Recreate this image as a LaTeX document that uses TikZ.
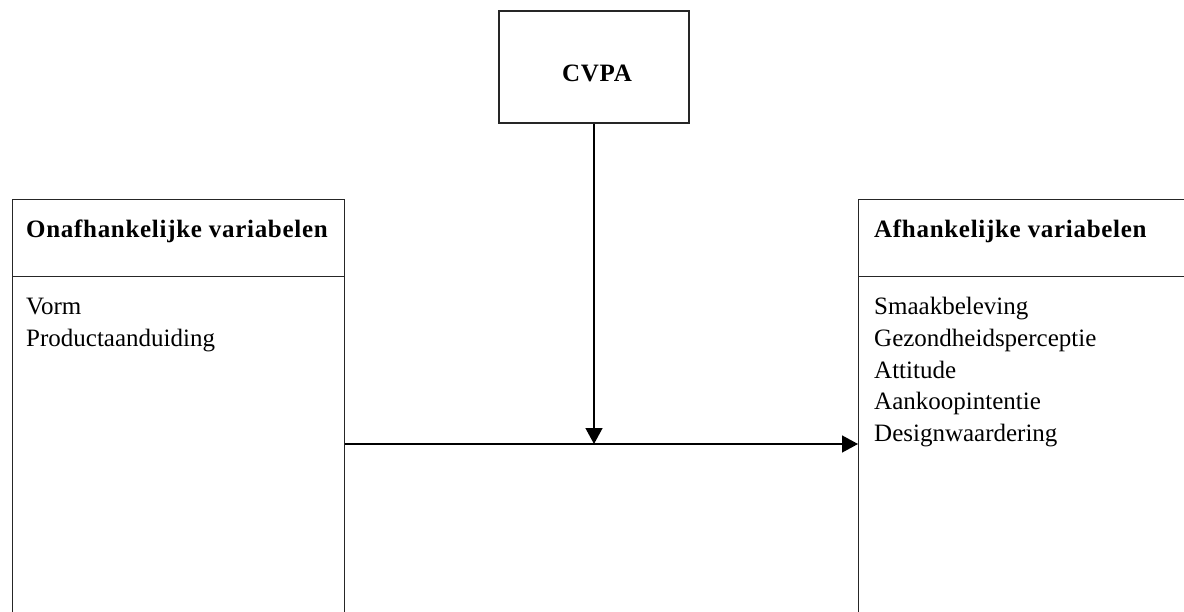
\documentclass[tikz,border=0pt]{standalone}
\usepackage{fontspec}
\setmainfont{Liberation Serif}
\usetikzlibrary{arrows.meta}
\tikzset{
  box/.style={draw=black!85, line width=1.4pt, rectangle, inner sep=0pt},
  conn/.style={draw=black, line width=1.4pt, -{Triangle[length=16pt,width=17pt]}},
  txt/.style={anchor=base west, inner sep=0pt, font=\fontsize{25}{31.5}\selectfont},
  hdr/.style={txt, font=\fontsize{25}{31.5}\selectfont\bfseries\addfontfeatures{LetterSpace=2.8}},
}
\begin{document}
\begin{tikzpicture}[x=1pt,y=-1pt]
\useasboundingbox (0,0) rectangle (1184,612);
\clip (0,0) rectangle (1184,612);
\fill[white] (0,0) rectangle (1184,612);
% CVPA box
\node[box, minimum width=190pt, minimum height=112pt] (cvpa) at (594,67) {};
\node[anchor=base, inner sep=0pt, font=\fontsize{25}{31.5}\selectfont\bfseries\addfontfeatures{LetterSpace=2.8}] (cvpal) at (597,82) {CVPA};
% left box
\node[box, anchor=north west, minimum width=332pt, minimum height=77pt] (lh) at (12,199) {};
\node[box, anchor=north west, minimum width=332pt, minimum height=420pt] (lb) at (12,276) {};
\node[hdr] (lht) at (26,238) {Onafhankelijke variabelen};
\node[txt] (l1) at (26,315) {Vorm};
\node[txt] (l2) at (26,346.5) {Productaanduiding};
% right box
\node[box, anchor=north west, minimum width=400pt, minimum height=77pt] (rh) at (858,199) {};
\node[box, anchor=north west, minimum width=400pt, minimum height=420pt] (rb) at (858,276) {};
\node[hdr] (rht) at (874,238) {Afhankelijke variabelen};
\node[txt] (r1) at (874,315) {Smaakbeleving};
\node[txt] (r2) at (874,346.5) {Gezondheidsperceptie};
\node[txt] (r3) at (874,378) {Attitude};
\node[txt] (r4) at (874,409.5) {Aankoopintentie};
\node[txt] (r5) at (874,441) {Designwaardering};
% connectors
\coordinate (mid) at (594,444);
\draw[conn] (lb.east |- mid) -- (rb.west |- mid);
\draw[conn] (cvpa.south) -- (mid);
\end{tikzpicture}
\end{document}
